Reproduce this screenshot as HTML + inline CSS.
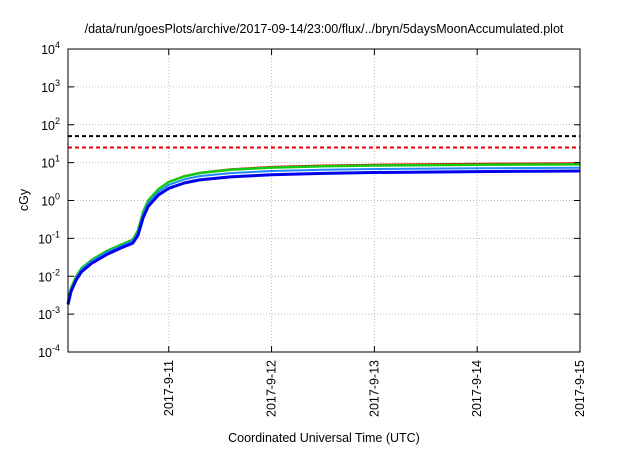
<!DOCTYPE html>
<html><head><meta charset="utf-8"><style>
body{margin:0;background:#fff;font-family:"Liberation Sans",sans-serif;}
svg text{font-family:"Liberation Sans",sans-serif;fill:#000;}
</style></head><body>
<svg id="c" width="640" height="448">
<text x="324" y="33" text-anchor="middle" font-size="12.5">/data/run/goesPlots/archive/2017-09-14/23:00/flux/../bryn/5daysMoonAccumulated.plot</text>
<text x="324" y="442" text-anchor="middle" font-size="12.5">Coordinated Universal Time (UTC)</text>
<text transform="translate(28,200) rotate(-90)" text-anchor="middle" font-size="12.5">cGy</text>
<g id="grid"></g><g id="series"></g><g id="axes"></g>
</svg>
<script>
const xTickLabels=["2017-9-11","2017-9-12","2017-9-13","2017-9-14","2017-9-15"];
const xTickDays=[1,2,3,4,5];
const yTickExps=[-4,-3,-2,-1,0,1,2,3,4];
const days=[0.02,0.05,0.1,0.15,0.25,0.4,0.55,0.65,0.7,0.75,0.8,0.9,1.0,1.15,1.3,1.6,2,2.5,3,4,5];
const seriesBlue=[0.0018,0.004,0.008,0.013,0.022,0.038,0.058,0.075,0.12,0.35,0.7,1.4,2.1,2.9,3.5,4.2,4.8,5.2,5.5,5.8,6.0];
const seriesLightBlue=[0.002,0.0045,0.009,0.015,0.025,0.043,0.065,0.085,0.14,0.42,0.85,1.7,2.6,3.6,4.4,5.3,6.0,6.5,6.8,7.1,7.3];
const seriesGreen=[0.0022,0.005,0.01,0.016,0.027,0.047,0.07,0.093,0.16,0.5,1.0,2.0,3.1,4.3,5.3,6.5,7.4,8.0,8.4,8.8,9.0];
const seriesRed=[0.0022,0.005,0.01,0.016,0.027,0.047,0.071,0.094,0.16,0.5,1.0,2.0,3.1,4.4,5.4,6.7,7.7,8.4,8.8,9.3,9.6];
const thresholdBlack=50, thresholdRed=25;
const L=68,R=580,T=49,B=352,X0=0.02,X1=5;
const xs=d=>L+(d-X0)/(X1-X0)*(R-L);
const ys=v=>B-(Math.log10(v)+4)/8*(B-T);
const NS="http://www.w3.org/2000/svg";
function mk(p,t,a){const e=document.createElementNS(NS,t);for(const k in a)e.setAttribute(k,a[k]);document.getElementById(p).appendChild(e);return e;}
xTickDays.forEach((d,i)=>{const x=xs(d);
const g=mk('grid','line',{x1:x,x2:x,y1:T,y2:B,stroke:'#bbb','stroke-dasharray':'1,2'});


const tk=mk('axes','line',{x1:x,x2:x,y1:B,y2:B-6,stroke:'#000'});


const t2=mk('axes','line',{x1:x,x2:x,y1:T,y2:T+6,stroke:'#000'});


const tx=mk('axes','text',{transform:`translate(${x+4},360) rotate(-90)`,'text-anchor':'end','font-size':'12.5'});
tx.textContent=xTickLabels[i];


});
yTickExps.forEach(e=>{const y=ys(Math.pow(10,e));
if(e>-4&&e<4){const g=mk('grid','line',{x1:L,x2:R,y1:y,y2:y,stroke:'#bbb','stroke-dasharray':'1,2'});

}
const tk=mk('axes','line',{x1:L,x2:L+6,y1:y,y2:y,stroke:'#000'});


const tr=mk('axes','line',{x1:R,x2:R-6,y1:y,y2:y,stroke:'#000'});


const tx=mk('axes','text',{x:60,y:y+5,'text-anchor':'end','font-size':'12.5'});
tx.innerHTML='10<tspan dy="-6" font-size="9">'+e+'</tspan>';


});
[[thresholdBlack,'#000','threshold-black'],[thresholdRed,'#e00','threshold-red']].forEach(([v,c,n])=>{
const l=mk('series','line',{x1:L,x2:R,y1:ys(v),y2:ys(v),stroke:c,'stroke-width':2,'stroke-dasharray':'4,3'});


});
[[seriesRed,'#e00',2,'series-red'],[seriesGreen,'#1c1',2.5,'series-green'],[seriesLightBlue,'#28f',2,'series-light-blue'],[seriesBlue,'#00e',3,'series-blue']].forEach(([s,c,w,n])=>{
const p=mk('series','path',{d:s.map((v,i)=>(i?'L':'M')+xs(days[i]).toFixed(1)+','+ys(v).toFixed(1)).join(''),fill:'none',stroke:c,'stroke-width':w,'stroke-linejoin':'round'});


});
const f=mk('axes','rect',{x:L,y:T,width:R-L,height:B-T,fill:'none',stroke:'#000','stroke-width':1});


</script>
</body></html>
